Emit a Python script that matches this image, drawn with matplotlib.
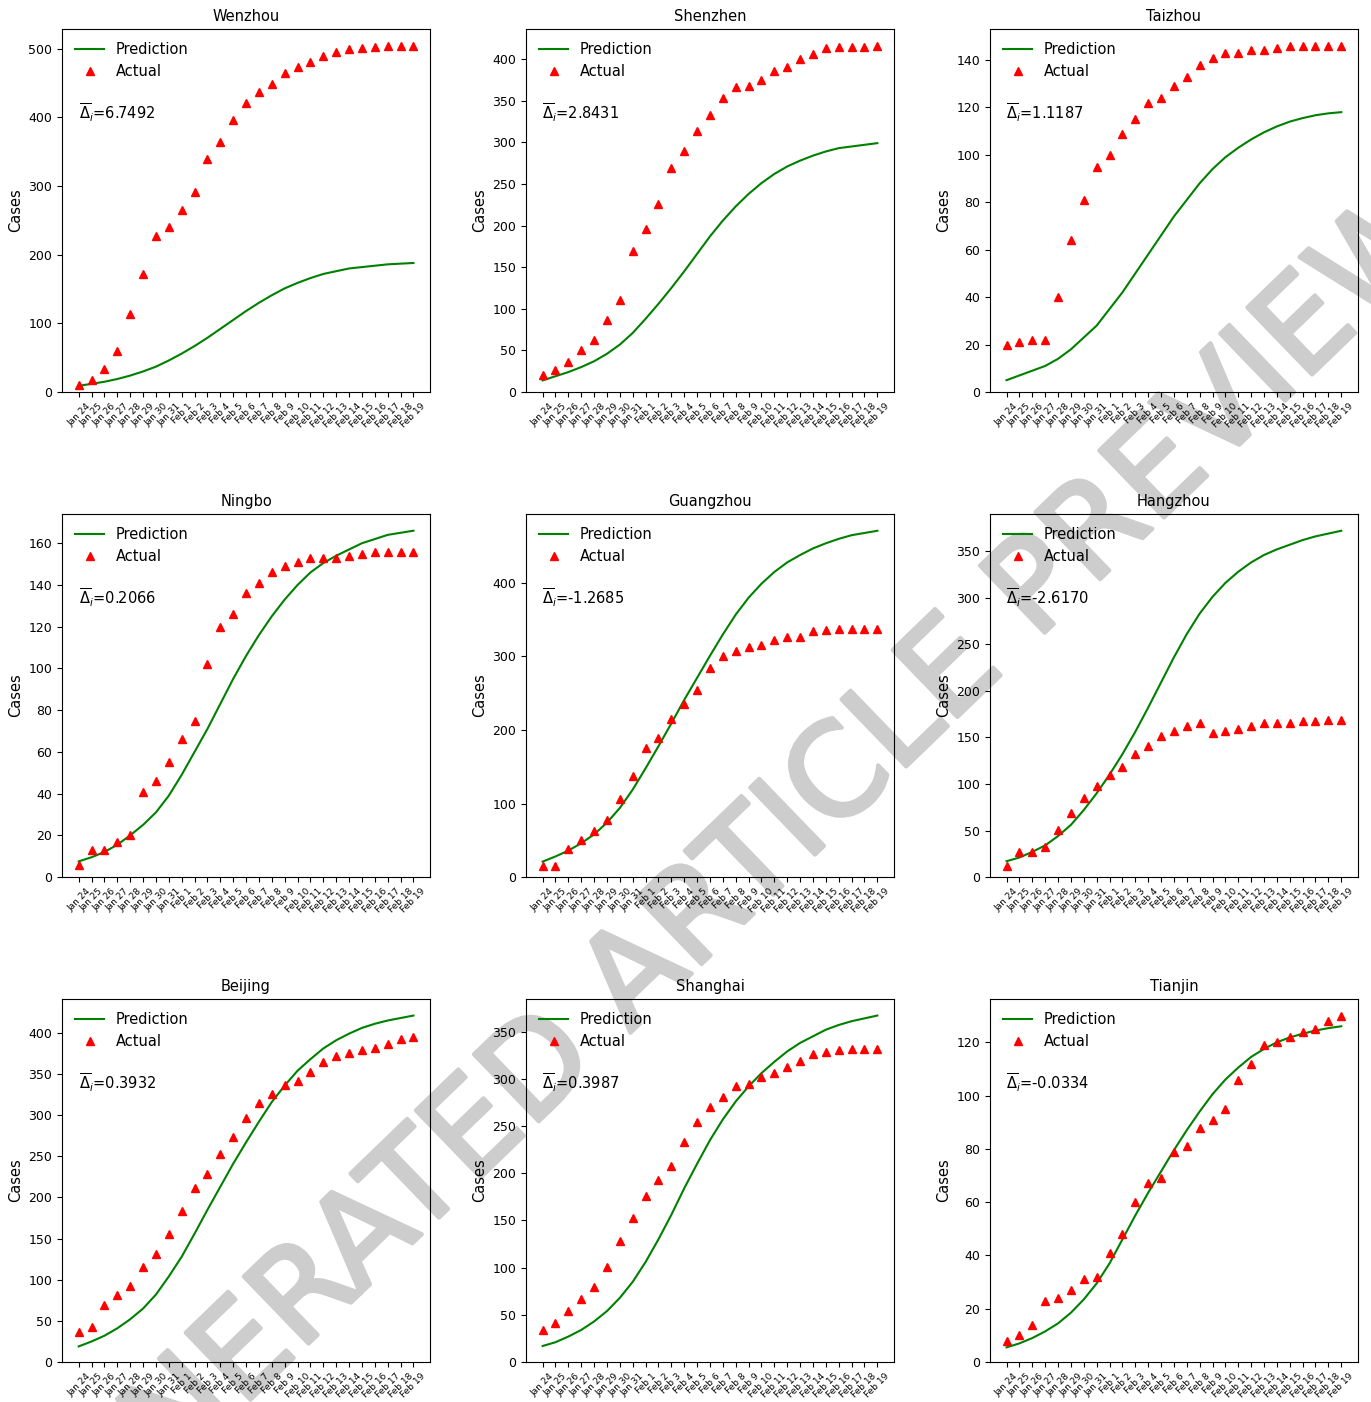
"""Predicted vs actual cumulative cases for nine Chinese cities."""

import matplotlib.pyplot as plt
import matplotlib.patheffects as pe
import numpy as np

days = [
    "Jan 24", "Jan 25", "Jan 26", "Jan 27", "Jan 28", "Jan 29", "Jan 30", "Jan 31",
    "Feb 1", "Feb 2", "Feb 3", "Feb 4", "Feb 5", "Feb 6", "Feb 7", "Feb 8", "Feb 9",
    "Feb 10", "Feb 11", "Feb 12", "Feb 13", "Feb 14", "Feb 15", "Feb 16", "Feb 17",
    "Feb 18", "Feb 19",
]

cities = [
    "Wenzhou", "Shenzhen", "Taizhou",
    "Ningbo", "Guangzhou", "Hangzhou",
    "Beijing", "Shanghai", "Tianjin",
]
delta_bar = [
    "6.7492", "2.8431", "1.1187",
    "0.2066", "-1.2685", "-2.6170",
    "0.3932", "0.3987", "-0.0334",
]

actual_wenzhou = [10, 18, 33, 60, 114, 172, 227, 241, 265, 291, 340, 364, 396, 421,
                  437, 448, 464, 473, 480, 490, 496, 499, 501, 503, 504, 504, 504]
pred_wenzhou = [9, 12, 15, 19, 24, 30, 37, 46, 56, 67, 79, 92, 105, 118,
                130, 141, 151, 159, 166, 172, 176, 180, 182, 184, 186, 187, 188]

actual_shenzhen = [20, 27, 36, 50, 63, 86, 110, 170, 196, 226, 269, 289, 313, 333,
                   353, 366, 368, 375, 386, 391, 400, 406, 413, 414, 415, 415, 416]
pred_shenzhen = [14, 19, 24, 30, 37, 46, 57, 71, 88, 106, 125, 145, 166, 187,
                 206, 223, 238, 251, 262, 271, 278, 284, 289, 293, 295, 297, 299]

actual_taizhou = [20, 21, 22, 22, 40, 64, 81, 95, 100, 109, 115, 122, 124, 129,
                  133, 138, 141, 143, 143, 144, 144, 145, 146, 146, 146, 146, 146]
pred_taizhou = [5, 7, 9, 11, 14, 18, 23, 28, 35, 42, 50, 58, 66, 74,
                81, 88, 94, 99, 103, 106.5, 109.5, 112, 114, 115.5, 116.7, 117.5, 118]

actual_ningbo = [6, 13, 13, 17, 20, 41, 46, 55, 66, 75, 102, 120, 126, 136,
                 141, 146, 149, 151, 153, 153, 153, 154, 155, 156, 156, 156, 156]
pred_ningbo = [7.5, 9.5, 12, 15.5, 20, 25, 31, 39, 49, 60, 71, 83, 95, 106,
               116, 125, 133, 140, 146, 150.5, 154, 157, 160, 162, 164, 165, 166]

actual_guangzhou = [15, 15, 38, 51, 62, 78, 106, 137, 175, 189, 215, 236, 254, 284,
                    300, 307, 313, 316, 322, 326, 327, 334, 336, 337, 337, 337, 337]
pred_guangzhou = [21, 28, 36, 46, 58, 74, 94, 119, 148, 178, 209, 241, 271, 301,
                  330, 357, 380, 399, 415, 428, 438, 447, 454, 460, 465, 468, 471]

actual_hangzhou = [12, 27, 27, 32, 51, 69, 85, 98, 110, 118, 132, 141, 151, 157,
                   162, 165, 155, 157, 159, 162, 165, 166, 166, 168, 168, 169, 169]
pred_hangzhou = [17, 21, 27, 34, 44, 56, 72, 90, 110, 132, 156, 182, 209, 236,
                 261, 283, 301, 316, 328, 338, 346, 352, 357, 362, 366, 369, 372]

actual_beijing = [36, 42, 69, 81, 92, 115, 131, 156, 183, 212, 228, 253, 274, 297,
                  315, 326, 337, 341, 352, 365, 372, 375, 379, 381, 387, 393, 395]
pred_beijing = [19, 25, 32, 41, 52, 65, 82, 104, 128, 156, 185, 213, 241, 267,
                292, 316, 336, 354, 368, 381, 391, 399, 406, 411, 415, 418, 421]

actual_shanghai = [34, 41, 54, 67, 80, 101, 128, 153, 176, 193, 208, 233, 254, 270,
                   281, 292, 295, 302, 306, 313, 319, 326, 328, 331, 332, 332, 332]
pred_shanghai = [17, 21, 27, 34, 43, 54, 68, 85, 106, 130, 156, 184, 210, 235,
                 257, 276, 292, 306, 318, 329, 338, 345, 352, 357, 361, 364, 367]

actual_tianjin = [8, 10, 14, 23, 24, 27, 31, 32, 41, 48, 60, 67, 69, 79,
                  81, 88, 91, 95, 106, 112, 119, 120, 122, 124, 125, 128, 130]
pred_tianjin = [5.5, 7, 9, 11.5, 14.5, 18.5, 23.5, 29.5, 37, 46, 55, 63.5, 71.5, 79.5,
                87, 94, 100.5, 106, 110.5, 114.5, 117.5, 120, 121.8, 123.2, 124.4, 125.3, 126]

actual_all = [actual_wenzhou, actual_shenzhen, actual_taizhou,
              actual_ningbo, actual_guangzhou, actual_hangzhou,
              actual_beijing, actual_shanghai, actual_tianjin]
pred_all = [pred_wenzhou, pred_shenzhen, pred_taizhou,
            pred_ningbo, pred_guangzhou, pred_hangzhou,
            pred_beijing, pred_shanghai, pred_tianjin]


def main() -> None:
    fig, axes = plt.subplots(3, 3, figsize=(13.71, 14.02), dpi=100)
    fig.subplots_adjust(left=0.0452, right=0.9905, top=0.9793, bottom=0.0285,
                        wspace=0.26, hspace=0.336)

    x = np.arange(len(days))
    for ax, city, delta, act, pred in zip(axes.flat, cities, delta_bar, actual_all, pred_all):
        # transparent axes so the watermark behind shows through
        ax.set_facecolor("none")
        ax.plot(x, pred, color="green", linewidth=1.5, label="Prediction")
        ax.plot(x, act, "r^", markersize=6, label="Actual")
        ax.set_ylim(bottom=0)

        ax.set_xticks(x)
        ax.set_xticklabels(days, rotation=45, fontsize=6.5)
        ax.tick_params(axis="y", labelsize=9)
        ax.set_title(city, fontsize=10.5)
        ax.set_ylabel("Cases", fontsize=10.5)
        ax.legend(loc="upper left", frameon=False, fontsize=10.5)
        ax.text(0.045, 0.77, r"$\overline{\Delta}_i$=" + delta, transform=ax.transAxes,
                fontsize=10.5, va="center", ha="left")

    # light diagonal watermark behind the panels
    wm_color = "#cdcdcd"
    fig.text(0.527, 0.362, "GENERATED ARTICLE PREVIEW", fontsize=92, color=wm_color,
             rotation=44, ha="center", va="center", zorder=-1,
             path_effects=[pe.withStroke(linewidth=3, foreground=wm_color)])

    fig.savefig("out.png", dpi=100)


if __name__ == "__main__":
    main()
